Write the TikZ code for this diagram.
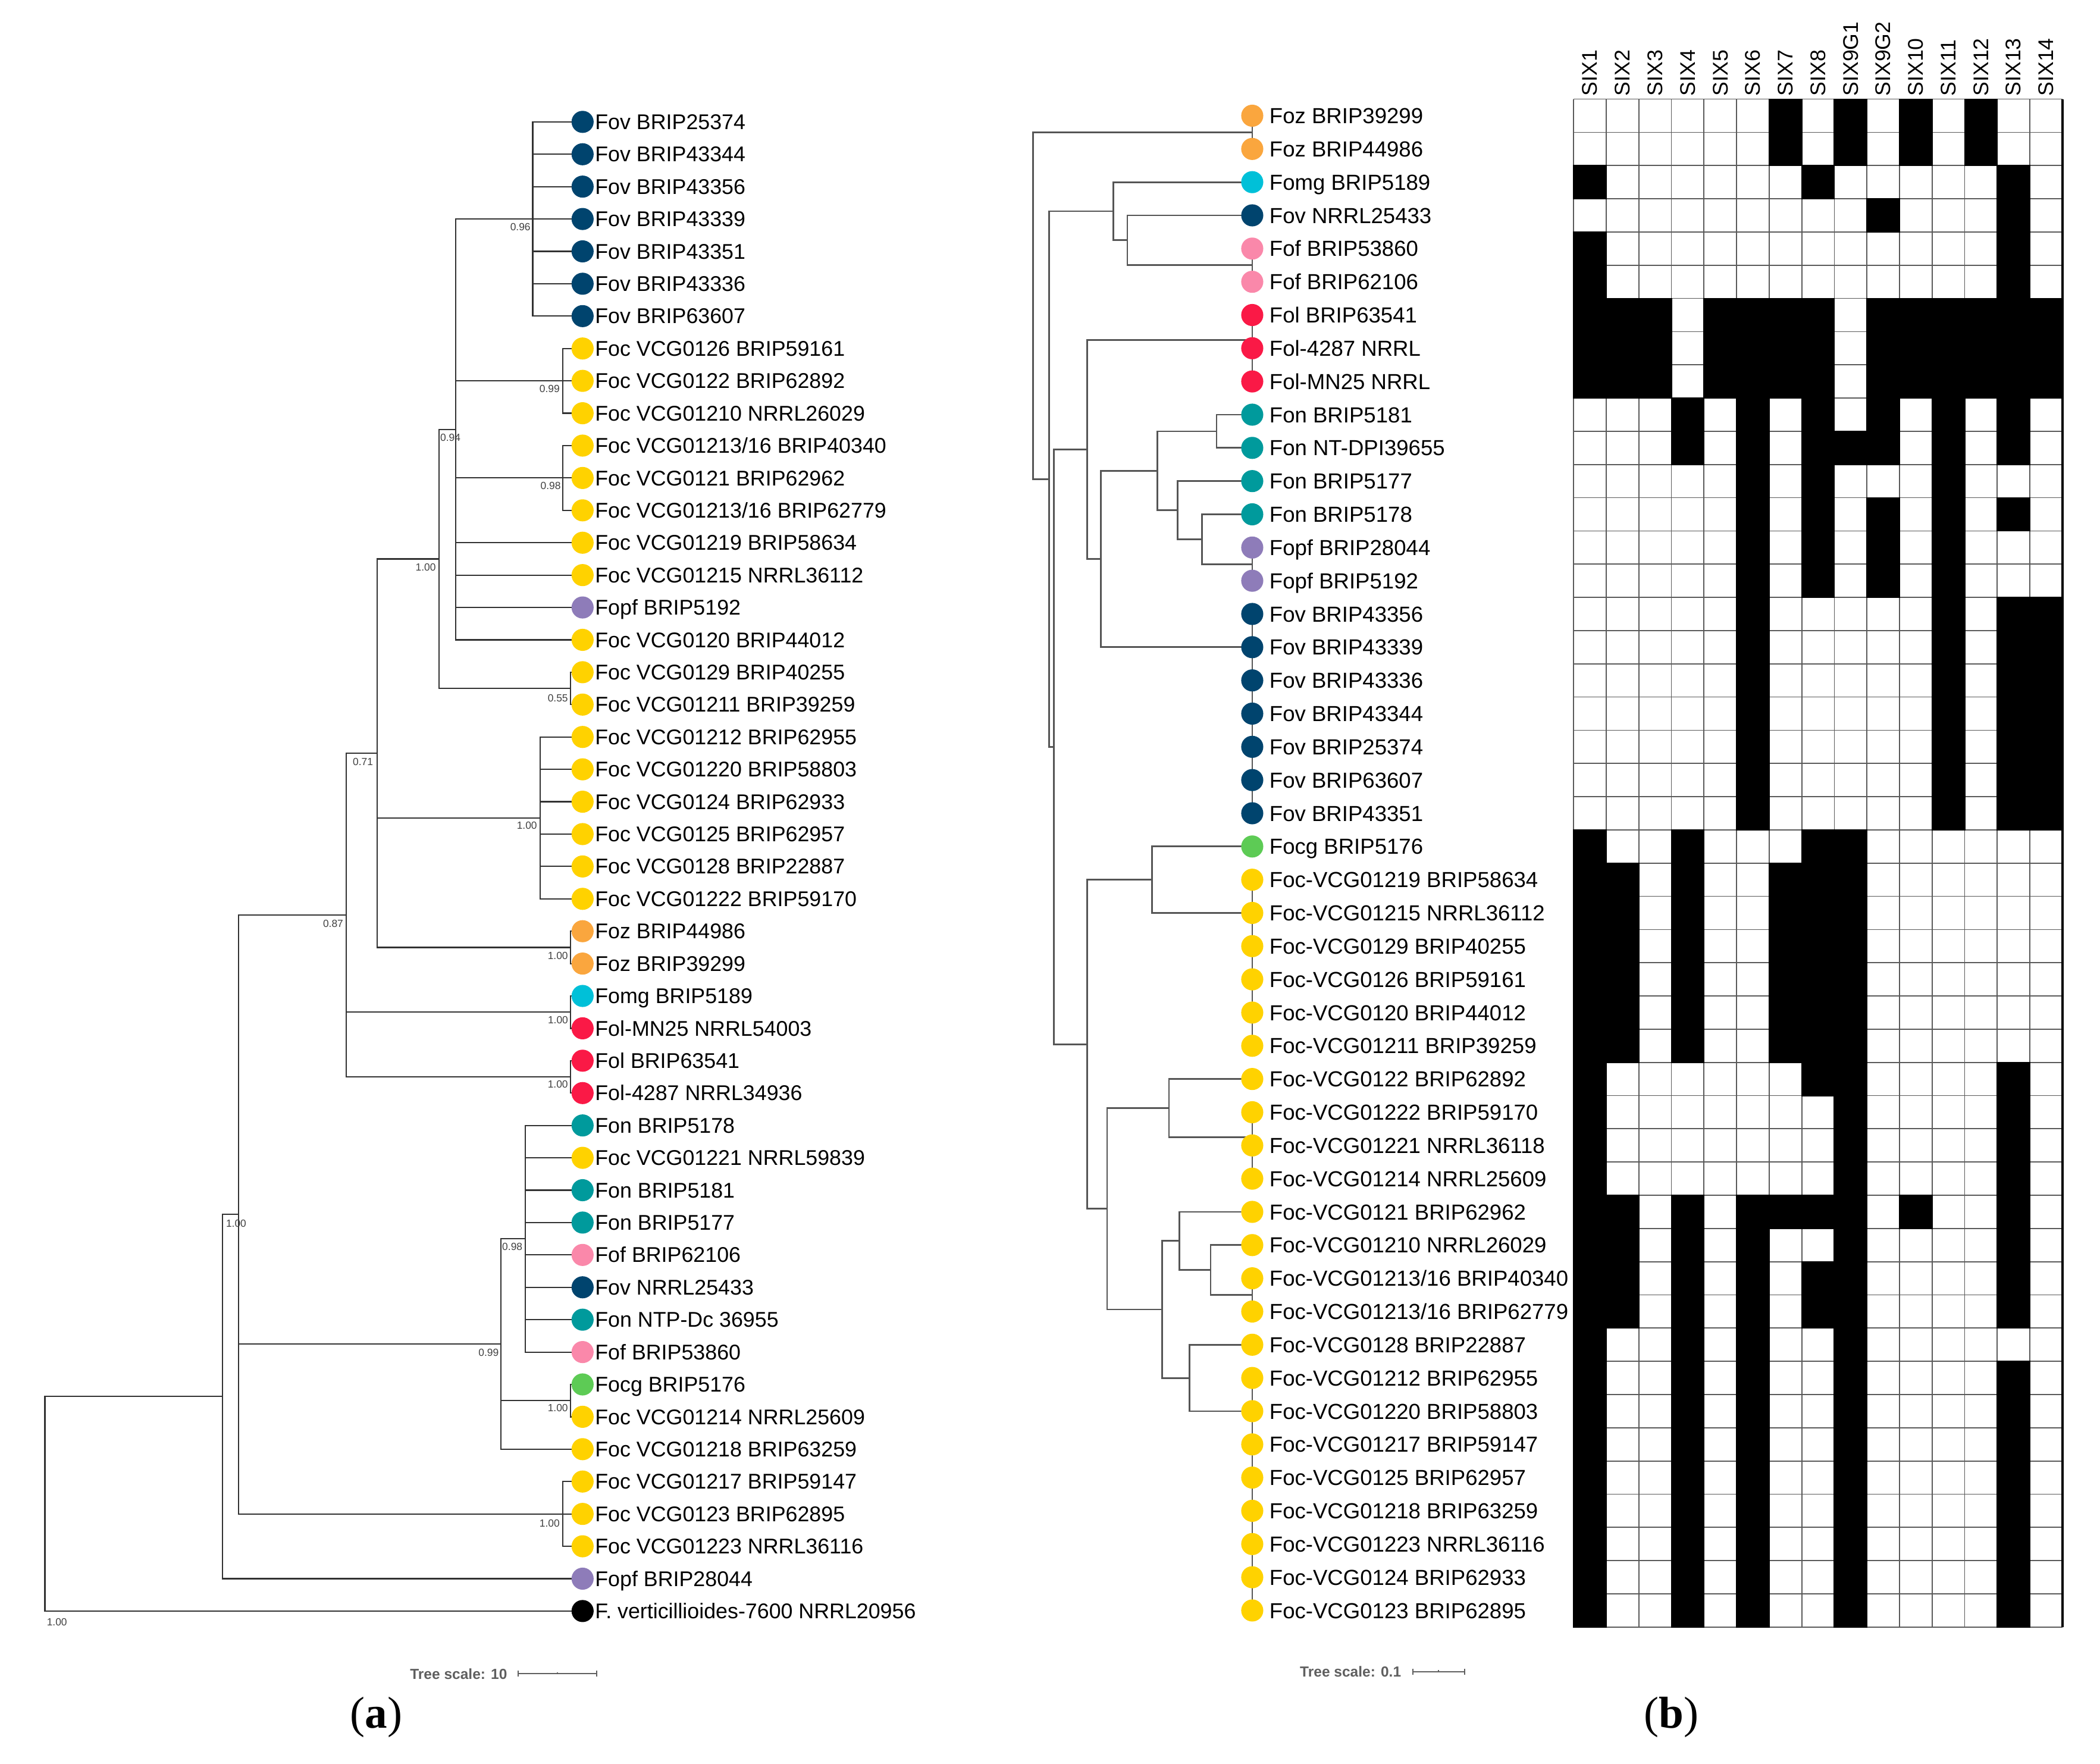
\documentclass[tikz,border=0pt]{standalone}
\usepackage{fontspec}
\setmainfont{Liberation Sans}
\newfontfamily\panelfont{Liberation Serif}
\usetikzlibrary{backgrounds}
\definecolor{cFov}{RGB}{0,68,110}
\definecolor{cFoc}{RGB}{255,210,0}
\definecolor{cFopf}{RGB}{142,124,185}
\definecolor{cFoz}{RGB}{250,166,62}
\definecolor{cFomg}{RGB}{0,192,216}
\definecolor{cFol}{RGB}{250,25,70}
\definecolor{cFon}{RGB}{0,154,156}
\definecolor{cFof}{RGB}{250,136,170}
\definecolor{cFocg}{RGB}{93,203,85}
\definecolor{treegrayA}{RGB}{50,50,50}
\definecolor{treegrayB}{RGB}{85,85,85}
\definecolor{gridgray}{RGB}{90,90,90}
\definecolor{sclgray}{RGB}{95,95,95}
\newcommand\ya[1]{91+24.17*(#1-1)}
\newcommand\yb[1]{86.4+24.8*(#1-1)}
\newcommand\LA[3]{\node[dotA, fill=#2] (a#1) at (435,{\ya{#1}}) {};
  \node[labA] (a#1t) at (444,{\ya{#1}+5.6}) {#3};}
\newcommand\LB[3]{\node[dotB, fill=#2] (b#1) at (935,{\yb{#1}}) {};
  \node[labB] (b#1t) at (947.5,{\yb{#1}+5.8}) {#3};}
\newcommand\BS[4]{\node[bs] (#1) at (#2,#3) {#4};}
\begin{document}
\begin{tikzpicture}[x=0.02cm, y=-0.02cm,
  dotA/.style={circle, inner sep=0pt, minimum size=0.33cm},
  dotB/.style={circle, inner sep=0pt, minimum size=0.33cm},
  labA/.style={anchor=base west, inner sep=0pt, font=\fontsize{9.05}{10}\selectfont},
  labB/.style={anchor=base west, inner sep=0pt, font=\fontsize{9.25}{10}\selectfont},
  treeA/.style={color=treegrayA, line width=0.55pt},
  treeB/.style={color=treegrayB, line width=0.7pt},
  bs/.style={anchor=east, inner sep=0pt, text=black!75, font=\fontsize{4.4}{5}\selectfont},
  hdr/.style={rotate=90, anchor=west, inner sep=0pt, font=\fontsize{9}{10}\selectfont},
  gridline/.style={color=gridgray, line width=0.45pt},
  scl/.style={anchor=east, inner sep=0pt, text=sclgray, font=\bfseries\fontsize{6.2}{7}\selectfont},
  sclbar/.style={color=sclgray, line width=0.5pt},
  panel/.style={inner sep=0pt, font=\panelfont\fontsize{19}{22}\selectfont}]
\useasboundingbox (0,0) rectangle (1568,1317);

% ---------------- (a) leaves ----------------
\LA{1}{cFov}{Fov BRIP25374}
\LA{2}{cFov}{Fov BRIP43344}
\LA{3}{cFov}{Fov BRIP43356}
\LA{4}{cFov}{Fov BRIP43339}
\LA{5}{cFov}{Fov BRIP43351}
\LA{6}{cFov}{Fov BRIP43336}
\LA{7}{cFov}{Fov BRIP63607}
\LA{8}{cFoc}{Foc VCG0126 BRIP59161}
\LA{9}{cFoc}{Foc VCG0122 BRIP62892}
\LA{10}{cFoc}{Foc VCG01210 NRRL26029}
\LA{11}{cFoc}{Foc VCG01213/16 BRIP40340}
\LA{12}{cFoc}{Foc VCG0121 BRIP62962}
\LA{13}{cFoc}{Foc VCG01213/16 BRIP62779}
\LA{14}{cFoc}{Foc VCG01219 BRIP58634}
\LA{15}{cFoc}{Foc VCG01215 NRRL36112}
\LA{16}{cFopf}{Fopf BRIP5192}
\LA{17}{cFoc}{Foc VCG0120 BRIP44012}
\LA{18}{cFoc}{Foc VCG0129 BRIP40255}
\LA{19}{cFoc}{Foc VCG01211 BRIP39259}
\LA{20}{cFoc}{Foc VCG01212 BRIP62955}
\LA{21}{cFoc}{Foc VCG01220 BRIP58803}
\LA{22}{cFoc}{Foc VCG0124 BRIP62933}
\LA{23}{cFoc}{Foc VCG0125 BRIP62957}
\LA{24}{cFoc}{Foc VCG0128 BRIP22887}
\LA{25}{cFoc}{Foc VCG01222 BRIP59170}
\LA{26}{cFoz}{Foz BRIP44986}
\LA{27}{cFoz}{Foz BRIP39299}
\LA{28}{cFomg}{Fomg BRIP5189}
\LA{29}{cFol}{Fol-MN25 NRRL54003}
\LA{30}{cFol}{Fol BRIP63541}
\LA{31}{cFol}{Fol-4287 NRRL34936}
\LA{32}{cFon}{Fon BRIP5178}
\LA{33}{cFoc}{Foc VCG01221 NRRL59839}
\LA{34}{cFon}{Fon BRIP5181}
\LA{35}{cFon}{Fon BRIP5177}
\LA{36}{cFof}{Fof BRIP62106}
\LA{37}{cFov}{Fov NRRL25433}
\LA{38}{cFon}{Fon NTP-Dc 36955}
\LA{39}{cFof}{Fof BRIP53860}
\LA{40}{cFocg}{Focg BRIP5176}
\LA{41}{cFoc}{Foc VCG01214 NRRL25609}
\LA{42}{cFoc}{Foc VCG01218 BRIP63259}
\LA{43}{cFoc}{Foc VCG01217 BRIP59147}
\LA{44}{cFoc}{Foc VCG0123 BRIP62895}
\LA{45}{cFoc}{Foc VCG01223 NRRL36116}
\LA{46}{cFopf}{Fopf BRIP28044}
\LA{47}{black}{F. verticillioides-7600 NRRL20956}

% ---------------- (a) internal nodes ----------------
\coordinate (aR) at (33.5,{\ya{43.6875}});
\coordinate (aN166) at (166,{\ya{40.375}});
\coordinate (aN178) at (178.3,{\ya{34.75}});
\coordinate (aN258) at (258.5,{\ya{25.5}});
\coordinate (aN281) at (281.6,{\ya{20.5}});
\coordinate (aN327) at (327.8,{\ya{14.5}});
\coordinate (aN340) at (340.1,{\ya{10.5}});
\coordinate (aC4) at (397.8,{\ya{4}});
\coordinate (aC9) at (420.3,{\ya{9}});
\coordinate (aC12) at (420.3,{\ya{12}});
\coordinate (aC18) at (425.8,{\ya{18.5}});
\coordinate (aC20) at (403.2,{\ya{22.5}});
\coordinate (aC26) at (425.8,{\ya{26.5}});
\coordinate (aC28) at (425.8,{\ya{28.5}});
\coordinate (aC30) at (425.8,{\ya{30.5}});
\coordinate (aN374) at (374.1,{\ya{38.75}});
\coordinate (aC32) at (392.3,{\ya{35.5}});
\coordinate (aC40) at (425.8,{\ya{40.5}});
\coordinate (aC44) at (420.3,{\ya{44}});

\begin{scope}[on background layer]
  \draw[treeA] (aR) |- (aN166);
  \draw[treeA] (aR) |- (a47.center);
  \draw[treeA] (aN166) |- (aN178);
  \draw[treeA] (aN166) |- (a46.center);
  \foreach \c in {aN258,aN374,aC44} \draw[treeA] (aN178) |- (\c);
  \foreach \c in {aN281,aC28,aC30} \draw[treeA] (aN258) |- (\c);
  \foreach \c in {aN327,aC20,aC26} \draw[treeA] (aN281) |- (\c);
  \foreach \c in {aN340,aC18} \draw[treeA] (aN327) |- (\c);
  \foreach \c in {aC4,aC9,aC12,a14.center,a15.center,a16.center,a17.center} \draw[treeA] (aN340) |- (\c);
  \foreach \i in {1,...,7} \draw[treeA] (aC4) |- (a\i.center);
  \foreach \i in {8,9,10} \draw[treeA] (aC9) |- (a\i.center);
  \foreach \i in {11,12,13} \draw[treeA] (aC12) |- (a\i.center);
  \foreach \i in {18,19} \draw[treeA] (aC18) |- (a\i.center);
  \foreach \i in {20,...,25} \draw[treeA] (aC20) |- (a\i.center);
  \foreach \i in {26,27} \draw[treeA] (aC26) |- (a\i.center);
  \foreach \i in {28,29} \draw[treeA] (aC28) |- (a\i.center);
  \foreach \i in {30,31} \draw[treeA] (aC30) |- (a\i.center);
  \foreach \c in {aC32,aC40,a42.center} \draw[treeA] (aN374) |- (\c);
  \foreach \i in {32,...,39} \draw[treeA] (aC32) |- (a\i.center);
  \foreach \i in {40,41} \draw[treeA] (aC40) |- (a\i.center);
  \foreach \i in {43,44,45} \draw[treeA] (aC44) |- (a\i.center);
\end{scope}

% bootstrap values (a)
\BS{bs1}{396.4}{169.5}{0.96}
\BS{bs2}{418.2}{290.3}{0.99}
\BS{bs3}{419}{362.7}{0.98}
\BS{bs4}{344.2}{326.8}{0.94}
\BS{bs5}{325.7}{423.6}{1.00}
\BS{bs6}{424.4}{521.2}{0.55}
\BS{bs7}{278.9}{569}{0.71}
\BS{bs8}{401.3}{616.5}{1.00}
\BS{bs9}{256.6}{689.8}{0.87}
\BS{bs10}{424.4}{713.4}{1.00}
\BS{bs11}{424.5}{761.7}{1.00}
\BS{bs12}{424.4}{809.7}{1.00}
\BS{bs13}{184.2}{913.5}{1.00}
\BS{bs14}{390.4}{930.9}{0.98}
\BS{bs15}{372.7}{1010}{0.99}
\BS{bs16}{424.4}{1051.2}{1.00}
\BS{bs17}{418.2}{1137.2}{1.00}
\BS{bs18}{50.4}{1211.1}{1.00}

% scale bar (a)
\node[scl] (sclA) at (379,1249.7) {Tree scale: 10};
\coordinate (sclA1) at (386.7,1249.7);
\coordinate (sclA2) at (445.7,1249.7);
\coordinate (sclAm) at (416.2,1249.7);
\draw[sclbar] (sclA1) -- (sclA2);
\draw[sclbar] (sclA1) ++(0,-2.2) -- ++(0,4.4);
\draw[sclbar] (sclA2) ++(0,-2.2) -- ++(0,4.4);
\draw[sclbar] (sclAm) ++(0,-1) -- ++(0,1);
\node[panel] (pa) at (281,1282) {(\textbf{a})};

% ---------------- (b) leaves ----------------
\LB{1}{cFoz}{Foz BRIP39299}
\LB{2}{cFoz}{Foz BRIP44986}
\LB{3}{cFomg}{Fomg BRIP5189}
\LB{4}{cFov}{Fov NRRL25433}
\LB{5}{cFof}{Fof BRIP53860}
\LB{6}{cFof}{Fof BRIP62106}
\LB{7}{cFol}{Fol BRIP63541}
\LB{8}{cFol}{Fol-4287 NRRL}
\LB{9}{cFol}{Fol-MN25 NRRL}
\LB{10}{cFon}{Fon BRIP5181}
\LB{11}{cFon}{Fon NT-DPI39655}
\LB{12}{cFon}{Fon BRIP5177}
\LB{13}{cFon}{Fon BRIP5178}
\LB{14}{cFopf}{Fopf BRIP28044}
\LB{15}{cFopf}{Fopf BRIP5192}
\LB{16}{cFov}{Fov BRIP43356}
\LB{17}{cFov}{Fov BRIP43339}
\LB{18}{cFov}{Fov BRIP43336}
\LB{19}{cFov}{Fov BRIP43344}
\LB{20}{cFov}{Fov BRIP25374}
\LB{21}{cFov}{Fov BRIP63607}
\LB{22}{cFov}{Fov BRIP43351}
\LB{23}{cFocg}{Focg BRIP5176}
\LB{24}{cFoc}{Foc-VCG01219 BRIP58634}
\LB{25}{cFoc}{Foc-VCG01215 NRRL36112}
\LB{26}{cFoc}{Foc-VCG0129 BRIP40255}
\LB{27}{cFoc}{Foc-VCG0126 BRIP59161}
\LB{28}{cFoc}{Foc-VCG0120 BRIP44012}
\LB{29}{cFoc}{Foc-VCG01211 BRIP39259}
\LB{30}{cFoc}{Foc-VCG0122 BRIP62892}
\LB{31}{cFoc}{Foc-VCG01222 BRIP59170}
\LB{32}{cFoc}{Foc-VCG01221 NRRL36118}
\LB{33}{cFoc}{Foc-VCG01214 NRRL25609}
\LB{34}{cFoc}{Foc-VCG0121 BRIP62962}
\LB{35}{cFoc}{Foc-VCG01210 NRRL26029}
\LB{36}{cFoc}{Foc-VCG01213/16 BRIP40340}
\LB{37}{cFoc}{Foc-VCG01213/16 BRIP62779}
\LB{38}{cFoc}{Foc-VCG0128 BRIP22887}
\LB{39}{cFoc}{Foc-VCG01212 BRIP62955}
\LB{40}{cFoc}{Foc-VCG01220 BRIP58803}
\LB{41}{cFoc}{Foc-VCG01217 BRIP59147}
\LB{42}{cFoc}{Foc-VCG0125 BRIP62957}
\LB{43}{cFoc}{Foc-VCG01218 BRIP63259}
\LB{44}{cFoc}{Foc-VCG01223 NRRL36116}
\LB{45}{cFoc}{Foc-VCG0124 BRIP62933}
\LB{46}{cFoc}{Foc-VCG0123 BRIP62895}

% ---------------- (b) internal nodes ----------------
\coordinate (bR) at (771.4,228.2);
\coordinate (bZ) at (935,98.8);
\coordinate (bB1) at (783.3,357.65);
\coordinate (bA) at (831.4,157.7);
\coordinate (bA2) at (841.7,179.4);
\coordinate (bFof) at (935,198);
\coordinate (bC) at (787,557.6);
\coordinate (bD) at (811.8,335.55);
\coordinate (bFol) at (935,253.8);
\coordinate (bE) at (821.8,417.3);
\coordinate (bF) at (864,351.45);
\coordinate (bG) at (908.4,322);
\coordinate (bH) at (879.2,380.9);
\coordinate (bI) at (897.6,402.6);
\coordinate (bFopf) at (935,421.2);
\coordinate (bFov) at (935,483.2);
\coordinate (bJ) at (811.8,779.65);
\coordinate (bK) at (860.2,656.8);
\coordinate (bC24) at (935,681.6);
\coordinate (bL) at (826.6,902.5);
\coordinate (bM) at (872.8,827.3);
\coordinate (bC31) at (935,849);
\coordinate (bN) at (867.7,977.65);
\coordinate (bO) at (880.7,926.5);
\coordinate (bP) at (903.9,948.2);
\coordinate (bC36) at (935,966.8);
\coordinate (bQ) at (888.1,1028.8);
\coordinate (bC39) at (935,1053.6);

\begin{scope}[on background layer]
  \draw[treeB] (bR) |- (bZ);
  \draw[treeB] (bR) |- (bB1);
  \draw[treeB] (bB1) |- (bA);
  \draw[treeB] (bB1) |- (bC);
  \draw[treeB] (bA) |- (b3.center);
  \draw[treeB] (bA) |- (bA2);
  \draw[treeB] (bA2) |- (b4.center);
  \draw[treeB] (bA2) |- (bFof);
  \draw[treeB] (bC) |- (bD);
  \draw[treeB] (bC) |- (bJ);
  \draw[treeB] (bD) |- (bFol);
  \draw[treeB] (bD) |- (bE);
  \draw[treeB] (bE) |- (bF);
  \draw[treeB] (bE) |- (bFov);
  \draw[treeB] (bF) |- (bG);
  \draw[treeB] (bF) |- (bH);
  \draw[treeB] (bG) |- (b10.center);
  \draw[treeB] (bG) |- (b11.center);
  \draw[treeB] (bH) |- (b12.center);
  \draw[treeB] (bH) |- (bI);
  \draw[treeB] (bI) |- (b13.center);
  \draw[treeB] (bI) |- (bFopf);
  \draw[treeB] (bJ) |- (bK);
  \draw[treeB] (bJ) |- (bL);
  \draw[treeB] (bK) |- (b23.center);
  \draw[treeB] (bK) |- (bC24);
  \draw[treeB] (bL) |- (bM);
  \draw[treeB] (bL) |- (bN);
  \draw[treeB] (bM) |- (b30.center);
  \draw[treeB] (bM) |- (bC31);
  \draw[treeB] (bN) |- (bO);
  \draw[treeB] (bN) |- (bQ);
  \draw[treeB] (bO) |- (b34.center);
  \draw[treeB] (bO) |- (bP);
  \draw[treeB] (bP) |- (b35.center);
  \draw[treeB] (bP) |- (bC36);
  \draw[treeB] (bQ) |- (b38.center);
  \draw[treeB] (bQ) |- (bC39);
  % zero-length clades along the tip column
  \draw[treeB] (b1.center) -- (b2.center);
  \draw[treeB] (b5.center) -- (b6.center);
  \draw[treeB] (b7.center) -- (b9.center);
  \draw[treeB] (b14.center) -- (b15.center);
  \draw[treeB] (b16.center) -- (b22.center);
  \draw[treeB] (b24.center) -- (b29.center);
  \draw[treeB] (b31.center) -- (b33.center);
  \draw[treeB] (b36.center) -- (b37.center);
  \draw[treeB] (b39.center) -- (b46.center);
\end{scope}

% scale bar (b)
\node[scl] (sclB) at (1046.5,1248) {Tree scale: 0.1};
\coordinate (sclB1) at (1055,1248);
\coordinate (sclB2) at (1093.5,1248);
\coordinate (sclBm) at (1074.2,1248);
\draw[sclbar] (sclB1) -- (sclB2);
\draw[sclbar] (sclB1) ++(0,-2.2) -- ++(0,4.4);
\draw[sclbar] (sclB2) ++(0,-2.2) -- ++(0,4.4);
\draw[sclbar] (sclBm) ++(0,-1) -- ++(0,1);
\node[panel] (pb) at (1248,1282) {(\textbf{b})};

% ---------------- SIX presence/absence matrix ----------------
\foreach \c/\t in {1/SIX1,2/SIX2,3/SIX3,4/SIX4,5/SIX5,6/SIX6,7/SIX7,8/SIX8,9/SIX9G1,10/SIX9G2,11/SIX10,12/SIX11,13/SIX12,14/SIX13,15/SIX14}
  \node[hdr] (h\c) at ({1175+24.33*(\c-0.5)},72) {\t};
\foreach \r in {0,...,46} \draw[gridline] (1175,{74+24.8*\r}) -- (1540,{74+24.8*\r});
\foreach \c in {0,...,15} \draw[gridline] ({1175+24.33*\c},74) -- ({1175+24.33*\c},1214.8);
\foreach \r/\cs in {
  1/{7,9,11,13}, 2/{7,9,11,13}, 3/{1,8,14}, 4/{10,14}, 5/{1,14}, 6/{1,14},
  7/{1,2,3,5,6,7,8,10,11,12,13,14,15}, 8/{1,2,3,5,6,7,8,10,11,12,13,14,15},
  9/{1,2,3,5,6,7,8,10,11,12,13,14,15},
  10/{4,6,8,10,12,14}, 11/{4,6,8,9,10,12,14}, 12/{6,8,12}, 13/{6,8,10,12,14},
  14/{6,8,10,12}, 15/{6,8,10,12},
  16/{6,12,14,15}, 17/{6,12,14,15}, 18/{6,12,14,15}, 19/{6,12,14,15},
  20/{6,12,14,15}, 21/{6,12,14,15}, 22/{6,12,14,15},
  23/{1,4,8,9},
  24/{1,2,4,7,8,9}, 25/{1,2,4,7,8,9}, 26/{1,2,4,7,8,9}, 27/{1,2,4,7,8,9},
  28/{1,2,4,7,8,9}, 29/{1,2,4,7,8,9},
  30/{1,8,9,14}, 31/{1,9,14}, 32/{1,9,14}, 33/{1,9,14},
  34/{1,2,4,6,7,8,9,11,14}, 35/{1,2,4,6,9,14}, 36/{1,2,4,6,8,9,14}, 37/{1,2,4,6,8,9,14},
  38/{1,4,6,9},
  39/{1,4,6,9,14}, 40/{1,4,6,9,14}, 41/{1,4,6,9,14}, 42/{1,4,6,9,14},
  43/{1,4,6,9,14}, 44/{1,4,6,9,14}, 45/{1,4,6,9,14}, 46/{1,4,6,9,14}}
{
  \foreach \c in \cs {
    \fill[black] ({1175+24.33*(\c-1)-0.45},{74+24.8*(\r-1)-0.45}) rectangle ++(25.23,25.7);
  }
}
\draw[black, line width=1.2pt] (1540,74) -- (1540,1214.8);
\end{tikzpicture}
\end{document}
